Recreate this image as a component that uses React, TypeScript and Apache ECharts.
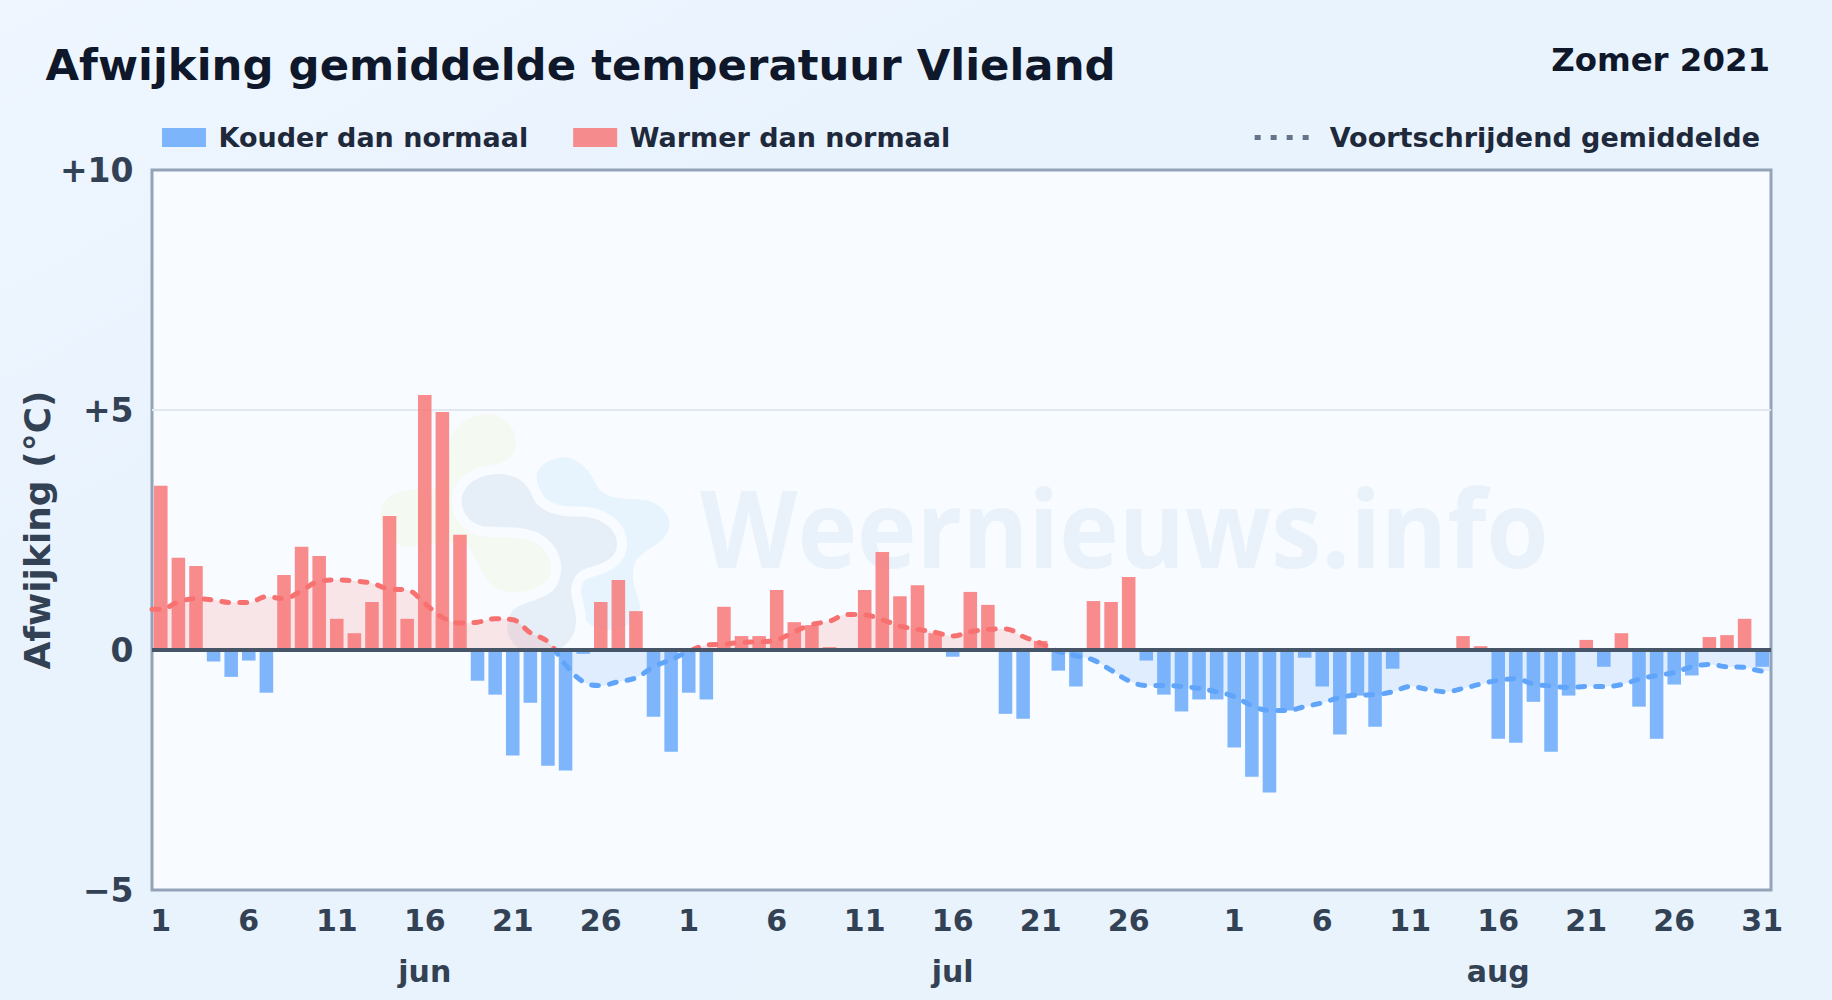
import React, { useEffect, useRef } from "react";
import * as echarts from "echarts";

const months = ["jun", "jul", "aug"];
const monthLengths = [30, 31, 31];
const yTicks: Record<string, string> = { "10": "+10", "5": "+5", "0": "0", "-5": "\u22125" };

const juneDeviation = [3.42, 1.92, 1.75, -0.24, -0.56, -0.22, -0.89, 1.56, 2.15, 1.96, 0.65, 0.35, 1.0, 2.79, 0.65, 5.31, 4.96, 2.4, -0.64, -0.93, -2.2, -1.1, -2.41, -2.51, -0.08, 1.0, 1.46, 0.81, -1.39, -2.12];
const julyDeviation = [-0.89, -1.03, 0.9, 0.29, 0.29, 1.25, 0.58, 0.52, 0.06, 0, 1.25, 2.04, 1.12, 1.35, 0.35, -0.14, 1.21, 0.94, -1.33, -1.43, 0.19, -0.43, -0.76, 1.02, 1.0, 1.52, -0.22, -0.93, -1.28, -1.03, -1.03];
const augustDeviation = [-2.03, -2.64, -2.97, -1.26, -0.16, -0.76, -1.76, -0.95, -1.6, -0.39, 0, 0, 0, 0.29, 0.08, -1.85, -1.93, -1.08, -2.12, -0.95, 0.21, -0.35, 0.35, -1.18, -1.85, -0.72, -0.53, 0.27, 0.31, 0.65, -0.35];

const juneAverage = [0.85, 1.0, 1.07, 1.04, 0.99, 0.99, 1.11, 1.07, 1.24, 1.43, 1.46, 1.44, 1.39, 1.27, 1.25, 0.97, 0.68, 0.56, 0.58, 0.65, 0.63, 0.36, 0.17, -0.31, -0.66, -0.74, -0.66, -0.58, -0.35, -0.2];
const julyAverage = [-0.03, 0.1, 0.12, 0.16, 0.17, 0.21, 0.38, 0.53, 0.6, 0.74, 0.73, 0.63, 0.5, 0.43, 0.37, 0.29, 0.38, 0.43, 0.44, 0.28, 0.14, -0.03, -0.12, -0.21, -0.42, -0.64, -0.74, -0.74, -0.76, -0.8, -0.87];
const augustAverage = [-0.97, -1.16, -1.26, -1.26, -1.18, -1.1, -0.99, -0.94, -0.93, -0.87, -0.76, -0.82, -0.87, -0.8, -0.71, -0.63, -0.6, -0.71, -0.75, -0.78, -0.76, -0.76, -0.72, -0.61, -0.53, -0.47, -0.35, -0.3, -0.35, -0.36, -0.44];

const deviation = [...juneDeviation, ...julyDeviation, ...augustDeviation];
const average = [...juneAverage, ...julyAverage, ...augustAverage];
const categories: string[] = [];
months.forEach((m, i) => {
  for (let d = 1; d <= monthLengths[i]; d++) categories.push(`${d} ${m}`);
});
const warm = deviation.map((v) => (v > 0 ? v : null));
const cold = deviation.map((v) => (v < 0 ? v : null));
const averagePoints: number[][] = [
  [0, average[0]],
  ...average.map((v, i) => [i + 0.5, v]),
  [average.length, average[average.length - 1]],
];

const FONT = "DejaVu Sans";
const RED = "#f87171";
const BLUE = "#60a5fa";
const PLOT_BG = "#f8fbff";

const logoGreen = "M270,130 C280,60 360,30 420,50 C480,80 480,160 440,180 C390,210 320,210 300,300 L450,400 C560,400 590,470 575,520 C550,580 440,590 400,560 C360,520 350,470 320,430 C250,420 200,440 140,440 C80,430 50,360 65,320 C80,280 150,260 210,270 C260,270 265,180 270,130 Z";
const logoSky = "M530,230 C535,190 590,165 630,175 C680,190 695,230 720,270 C750,300 800,295 860,300 C910,315 935,350 928,385 C915,430 860,445 830,480 C805,530 830,570 842,620 C835,670 780,695 720,690 C670,670 640,620 650,570 L560,300 C545,280 530,260 530,230 Z";
const logoMid = "M305,300 C310,250 360,222 420,222 C480,225 505,255 520,295 C540,335 590,350 650,350 C710,345 770,380 772,430 C772,480 720,495 680,505 C640,520 625,560 640,610 C655,660 655,710 605,745 L475,745 C440,720 430,670 460,630 C490,605 560,600 590,560 C620,500 600,440 545,405 C500,375 420,385 370,380 C330,370 305,340 305,300 Z";
echarts.graphic.registerShape("logoGreen", echarts.graphic.extendPath(logoGreen, {}));
echarts.graphic.registerShape("logoSky", echarts.graphic.extendPath(logoSky, {}));
echarts.graphic.registerShape("logoMid", echarts.graphic.extendPath(logoMid, {}));

// Red above the zero line, blue below it (plot spans y 170..890, zero at 2/3).
const signGradient = {
  type: "linear", x: 0, y: 170, x2: 0, y2: 890, global: true,
  colorStops: [
    { offset: 0, color: RED }, { offset: 2 / 3, color: RED },
    { offset: 2 / 3, color: BLUE }, { offset: 1, color: BLUE },
  ],
};

export default function App() {
  const ref = useRef<HTMLDivElement>(null);
  useEffect(() => {
    document.body.style.margin = "0";
    const chart = echarts.init(ref.current!, undefined, { renderer: "svg" });
    const logoBase = { x: 360, y: 400, scaleX: 1 / 3, scaleY: 1 / 3, silent: true, z: 1 };
    chart.setOption({
      animation: false,
      backgroundColor: {
        type: "linear", x: 0, y: 0, x2: 1, y2: 1,
        colorStops: [{ offset: 0, color: "#eff6ff" }, { offset: 0.3, color: "#e9f3fd" }, { offset: 1, color: "#e8f3fc" }],
      },
      textStyle: { fontFamily: FONT },
      title: [
        { text: "Afwijking gemiddelde temperatuur Vlieland", left: 45.5, top: 43, padding: 0, textStyle: { fontFamily: FONT, fontSize: 43.4, fontWeight: "bold", color: "#0f172a" } },
        { text: "Zomer 2021", right: 62, top: 44, padding: 0, textStyle: { fontFamily: FONT, fontSize: 32.4, fontWeight: "bold", color: "#0f172a" } },
      ],
      legend: [
        {
          left: 162, top: 124, padding: 0, itemWidth: 44, itemHeight: 19, itemGap: 45, selectedMode: false,
          data: [
            { name: "Kouder dan normaal", icon: "rect", itemStyle: { color: BLUE, opacity: 0.8 } },
            { name: "Warmer dan normaal", icon: "rect", itemStyle: { color: RED, opacity: 0.8 } },
          ],
          textStyle: { fontFamily: FONT, fontSize: 27, fontWeight: "bold", color: "#1e293b", padding: [0, 0, 0, 7.5] },
        },
        {
          right: 72, top: 124, padding: 0, itemWidth: 56, itemHeight: 19, selectedMode: false,
          data: [{ name: "Voortschrijdend gemiddelde", itemStyle: { opacity: 0 } }],
          lineStyle: { color: "#64748b", type: [6, 10], width: 5, cap: "butt" },
          textStyle: { fontFamily: FONT, fontSize: 27, fontWeight: "bold", color: "#1e293b", padding: [0, 0, 0, 14] },
        },
      ],
      grid: { left: 152, top: 170, right: 61, bottom: 110, show: true, backgroundColor: PLOT_BG, borderColor: "#94a3b8", borderWidth: 3 },
      graphic: [
        { type: "logoGreen", ...logoBase, style: { fill: "#f4f9f1" } },
        { type: "logoSky", ...logoBase, style: { fill: "#e7f4fe" } },
        { type: "logoMid", ...logoBase, style: { fill: "none", stroke: PLOT_BG, lineWidth: 60 } },
        { type: "logoMid", ...logoBase, style: { fill: "#e6eff8" } },
        { type: "text", x: 700, y: 473, scaleX: 0.942, z: 1, silent: true, style: { text: "Weernieuws.info", fontFamily: "Open Sans", fontWeight: "bold", fontSize: 107, fill: "#e9f2fa" } },
      ],
      xAxis: [
        {
          type: "category", data: categories, position: "bottom", axisLine: { show: false }, axisTick: { show: false }, splitLine: { show: false },
          axisLabel: {
            margin: 15.5, fontFamily: FONT, fontSize: 30, fontWeight: "bold", color: "#334155",
            interval: (i: number, v: string) => {
              const d = parseInt(v, 10);
              return (d - 1) % 5 === 0 && (d !== 31 || v.endsWith("aug"));
            },
            formatter: (v: string) => v.split(" ")[0],
          },
        },
        {
          type: "category", data: categories, position: "bottom", offset: 51, axisLine: { show: false }, axisTick: { show: false }, splitLine: { show: false },
          axisLabel: {
            margin: 15.5, fontFamily: FONT, fontSize: 30, fontWeight: "bold", color: "#334155",
            interval: (_i: number, v: string) => parseInt(v, 10) === 16,
            formatter: (v: string) => v.split(" ")[1],
          },
        },
        { type: "value", min: 0, max: categories.length, show: false },
      ],
      yAxis: {
        type: "value", min: -5, max: 10, interval: 5,
        name: "Afwijking (\u00B0C)", nameLocation: "middle", nameGap: 96.7, nameRotate: 90, nameMoveOverlap: false,
        nameTextStyle: { fontFamily: FONT, fontSize: 36, fontWeight: "bold", color: "#334155" },
        axisLine: { show: false }, axisTick: { show: false },
        splitLine: { showMinLine: false, showMaxLine: false, lineStyle: { color: "#e2e8f0", width: 2 } },
        axisLabel: { margin: 18.5, fontFamily: FONT, fontSize: 33, fontWeight: "bold", color: "#334155", formatter: (v: number) => yTicks[String(v)] },
      },
      series: [
        { name: "Kouder dan normaal", type: "bar", xAxisIndex: 0, data: cold, barWidth: "77%", barGap: "-100%", z: 2, itemStyle: { color: BLUE, opacity: 0.8 } },
        { name: "Warmer dan normaal", type: "bar", xAxisIndex: 0, data: warm, barWidth: "77%", barGap: "-100%", z: 2, itemStyle: { color: RED, opacity: 0.8 } },
        {
          name: "Voortschrijdend gemiddelde", type: "line", xAxisIndex: 2, data: averagePoints, smooth: 0.4, showSymbol: false, symbol: "none", z: 4,
          lineStyle: { width: 5, type: [7, 11], cap: "round", color: signGradient },
          itemStyle: { color: "#64748b" },
          areaStyle: { color: signGradient, opacity: 0.16 },
          markLine: {
            silent: true, symbol: "none", animation: false, label: { show: false },
            lineStyle: { color: "#475569", width: 4, type: "solid" },
            data: [{ yAxis: 0 }],
          },
        },
      ],
    });
    return () => chart.dispose();
  }, []);
  return <div ref={ref} style={{ width: 1832, height: 1000 }} />;
}
